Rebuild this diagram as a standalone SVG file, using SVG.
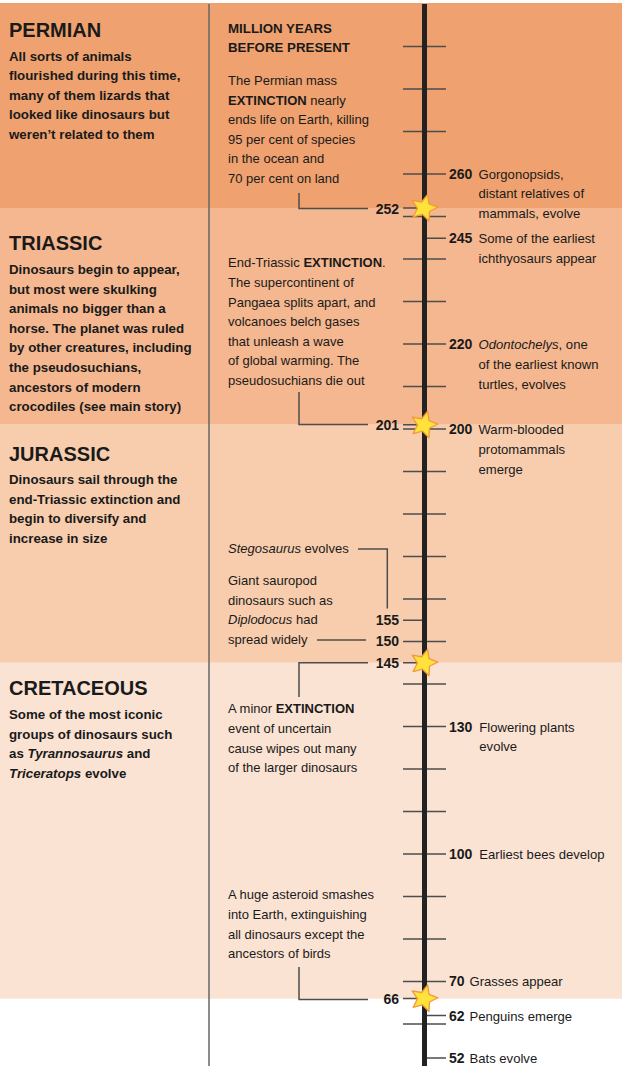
<svg xmlns="http://www.w3.org/2000/svg" width="628" height="1083" viewBox="0 0 628 1083">
<style>
text{font-family:"Liberation Sans",Arial,sans-serif;fill:#1a1a1a}
.hd{font-size:20px;font-weight:bold}
.lb{font-size:13.3px;font-weight:bold}
.md{font-size:13px}
.rt{font-size:13.1px}
.num{font-size:14px;font-weight:bold}
.b{font-weight:bold}
.i{font-style:italic}
.tick{stroke:#4d4d4d;stroke-width:1.6;fill:none}
.con{stroke:#4d4d4d;stroke-width:1.5;fill:none}
.star{fill:#FFE23A;stroke:#F09A3A;stroke-width:1.3;stroke-linejoin:round}
</style>
<defs>
<path id="star" d="M0,-14 L3.8,-5.2 L13.3,-4.3 L6.2,2 L8.2,11.3 L0,6.5 L-8.2,11.3 L-6.2,2 L-13.3,-4.3 L-3.8,-5.2 Z"/>
</defs>
<rect x="0" y="0" width="628" height="1083" fill="#ffffff"/>
<g id="bands">
<rect x="0" y="3" width="622" height="205" fill="#EFA26F"/>
<rect x="0" y="208" width="622" height="216.75" fill="#F4B78F"/>
<rect x="0" y="424.75" width="622" height="238" fill="#F7CDAD"/>
<rect x="0" y="662.75" width="622" height="336" fill="#FAE3D3"/>
</g>
<line x1="209" y1="4" x2="209" y2="1066" stroke="#666" stroke-width="1.5"/>
<g id="connectors">
<g id="ticks">
<path class="tick" d="M403,46.5H446M403,89H446M403,131.5H446M403,174H446M403,216.5H446M403,259H446M403,301.5H446M403,344H446M403,386.5H446M403,429H446M403,471.5H446M403,514H446M403,556.5H446M403,599H446M403,641.5H446M403,684H446M403,726.5H446M403,769H446M403,811.5H446M403,854H446M403,896.5H446M403,939H446M403,981.5H446M403,1024H446"/>
<path class="tick" d="M403,208H424M403,424.75H424M403,620.25H425M403,662.75H424M403,998.5H424"/>
<path class="tick" d="M424,238.25H446M424,1015.5H446M424,1058H446"/>
</g>
<path class="con" d="M299,193V208.5H368"/>
<path class="con" d="M299,392V424.5H368"/>
<path class="con" d="M358,549H387.3V608.5"/>
<path class="con" d="M317,640H366"/>
<path class="con" d="M299,697V662.75H368"/>
<path class="con" d="M299,967V999.5H368"/>
</g>
<line id="axis" x1="424.5" y1="4" x2="424.5" y2="1066" stroke="#222" stroke-width="5"/>
<g id="stars">
<use href="#star" class="star" transform="translate(424,208) rotate(15)"/>
<use href="#star" class="star" transform="translate(424,424.75) rotate(15)"/>
<use href="#star" class="star" transform="translate(424,662.75) rotate(15)"/>
<use href="#star" class="star" transform="translate(424,998.5) rotate(15)"/>
</g>
<g id="permian">
<text class="hd" x="9" y="36.5">PERMIAN</text>
<text class="lb" x="9" y="60.5">All sorts of animals</text>
<text class="lb" x="9" y="80">flourished during this time,</text>
<text class="lb" x="9" y="99.5">many of them lizards that</text>
<text class="lb" x="9" y="119">looked like dinosaurs but</text>
<text class="lb" x="9" y="138.5">weren’t related to them</text>
</g>
<g id="triassic">
<text class="hd" x="9" y="250">TRIASSIC</text>
<text class="lb" x="9" y="274">Dinosaurs begin to appear,</text>
<text class="lb" x="9" y="293.6">but most were skulking</text>
<text class="lb" x="9" y="313.2">animals no bigger than a</text>
<text class="lb" x="9" y="332.8">horse. The planet was ruled</text>
<text class="lb" x="9" y="352.4">by other creatures, including</text>
<text class="lb" x="9" y="372">the pseudosuchians,</text>
<text class="lb" x="9" y="391.6">ancestors of modern</text>
<text class="lb" x="9" y="411">crocodiles (see main story)</text>
</g>
<g id="jurassic">
<text class="hd" x="9" y="461">JURASSIC</text>
<text class="lb" x="9" y="484">Dinosaurs sail through the</text>
<text class="lb" x="9" y="503.5">end-Triassic extinction and</text>
<text class="lb" x="9" y="523">begin to diversify and</text>
<text class="lb" x="9" y="542.5">increase in size</text>
</g>
<g id="cretaceous">
<text class="hd" x="9" y="695">CRETACEOUS</text>
<text class="lb" x="9" y="719">Some of the most iconic</text>
<text class="lb" x="9" y="738.5">groups of dinosaurs such</text>
<text class="lb" x="9" y="758">as <tspan class="i">Tyrannosaurus</tspan> and</text>
<text class="lb" x="9" y="777.5"><tspan class="i">Triceratops</tspan> evolve</text>
</g>
<g id="axis-title">
<text class="lb" x="228" y="32.5">MILLION YEARS</text>
<text class="lb" x="228" y="52">BEFORE PRESENT</text>
</g>
<g id="permian-extinction">
<text class="md" x="228" y="85">The Permian mass</text>
<text class="md" x="228" y="104.6"><tspan class="b">EXTINCTION</tspan> nearly</text>
<text class="md" x="228" y="124.2">ends life on Earth, killing</text>
<text class="md" x="228" y="143.8">95 per cent of species</text>
<text class="md" x="228" y="163.4">in the ocean and</text>
<text class="md" x="228" y="183">70 per cent on land</text>
<text class="num" x="399" y="213.5" text-anchor="end">252</text>
</g>
<g id="triassic-extinction">
<text class="md" x="228" y="267.3">End-Triassic <tspan class="b">EXTINCTION</tspan>.</text>
<text class="md" x="228" y="286.9">The supercontinent of</text>
<text class="md" x="228" y="306.5">Pangaea splits apart, and</text>
<text class="md" x="228" y="326.1">volcanoes belch gases</text>
<text class="md" x="228" y="345.7">that unleash a wave</text>
<text class="md" x="228" y="365.3">of global warming. The</text>
<text class="md" x="228" y="385">pseudosuchians die out</text>
<text class="num" x="399" y="430" text-anchor="end">201</text>
</g>
<g id="stegosaurus">
<text class="md" x="228" y="553.3"><tspan class="i">Stegosaurus</tspan> evolves</text>
<text class="num" x="399" y="625" text-anchor="end">155</text>
</g>
<g id="diplodocus">
<text class="md" x="228" y="585">Giant sauropod</text>
<text class="md" x="228" y="604.6">dinosaurs such as</text>
<text class="md" x="228" y="624.2"><tspan class="i">Diplodocus</tspan> had</text>
<text class="md" x="228" y="644">spread widely</text>
<text class="num" x="399" y="646" text-anchor="end">150</text>
</g>
<g id="minor-extinction">
<text class="num" x="399" y="668" text-anchor="end">145</text>
<text class="md" x="228" y="713.3">A minor <tspan class="b">EXTINCTION</tspan></text>
<text class="md" x="228" y="733">event of uncertain</text>
<text class="md" x="228" y="752.5">cause wipes out many</text>
<text class="md" x="228" y="772">of the larger dinosaurs</text>
</g>
<g id="asteroid">
<text class="md" x="228" y="899.3">A huge asteroid smashes</text>
<text class="md" x="228" y="919">into Earth, extinguishing</text>
<text class="md" x="228" y="938.5">all dinosaurs except the</text>
<text class="md" x="228" y="958">ancestors of birds</text>
<text class="num" x="399" y="1004" text-anchor="end">66</text>
</g>
<g id="e260">
<text class="num" x="449" y="178.5">260</text>
<text class="rt" x="478.5" y="178.5">Gorgonopsids,</text>
<text class="rt" x="478.5" y="198.3">distant relatives of</text>
<text class="rt" x="478.5" y="218.1">mammals, evolve</text>
</g>
<g id="e245">
<text class="num" x="449" y="243.3">245</text>
<text class="rt" x="478.5" y="243.3">Some of the earliest</text>
<text class="rt" x="478.5" y="262.8">ichthyosaurs appear</text>
</g>
<g id="e220">
<text class="num" x="449" y="349.3">220</text>
<text class="rt" x="478.5" y="349.3"><tspan class="i">Odontochelys</tspan>, one</text>
<text class="rt" x="478.5" y="368.9">of the earliest known</text>
<text class="rt" x="478.5" y="388.5">turtles, evolves</text>
</g>
<g id="e200">
<text class="num" x="449" y="434.3">200</text>
<text class="rt" x="478.5" y="434.3">Warm-blooded</text>
<text class="rt" x="478.5" y="453.9">protomammals</text>
<text class="rt" x="478.5" y="473.5">emerge</text>
</g>
<g id="e130">
<text class="num" x="449" y="731.7">130</text>
<text class="rt" x="479.3" y="731.7">Flowering plants</text>
<text class="rt" x="479.3" y="751.3">evolve</text>
</g>
<g id="e100">
<text class="num" x="449" y="858.5">100</text>
<text class="rt" x="479.3" y="858.5">Earliest bees develop</text>
</g>
<g id="e70">
<text class="num" x="449" y="986">70</text>
<text class="rt" x="469.5" y="986">Grasses appear</text>
</g>
<g id="e62">
<text class="num" x="449" y="1020.5">62</text>
<text class="rt" x="469.5" y="1020.5">Penguins emerge</text>
</g>
<g id="e52">
<text class="num" x="449" y="1062.5">52</text>
<text class="rt" x="469.5" y="1062.5">Bats evolve</text>
</g>
</svg>
